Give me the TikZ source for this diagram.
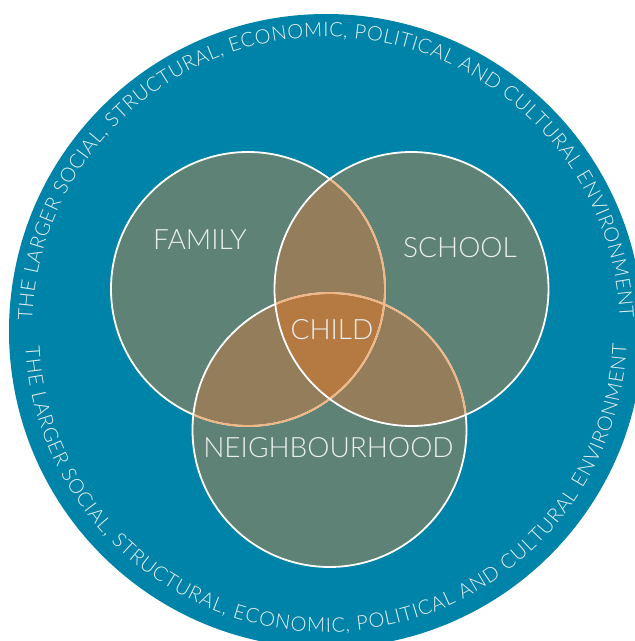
\documentclass[tikz,border=0pt]{standalone}
\usepackage{fontspec}
\IfFontExistsTF{Lato Light}{\setmainfont{Lato Light}}{\setmainfont{Lato}}
\usetikzlibrary{decorations.text}
\definecolor{ringblue}{HTML}{0083A8}
\definecolor{setgreen}{HTML}{5E8275}
\definecolor{pairbrown}{HTML}{937D5A}
\definecolor{triorange}{HTML}{B57A42}
\definecolor{peach}{HTML}{F2B683}
\definecolor{labeltext}{HTML}{E9EFF0}
\newcommand\ringfont{\fontsize{20}{20}\selectfont\color{labeltext}}
\begin{document}
\begin{tikzpicture}[x=1pt,y=1pt,
  setlabel/.style={text=labeltext, font=\fontsize{28}{28}\selectfont, inner sep=0pt},
  whiteedge/.style={draw=white, line width=1.8pt},
  peachedge/.style={draw=peach, line width=1.8pt},
  ringtext/.style={decorate, decoration={text along path, text align=fit to path, text={|\ringfont|#1}}}]
\useasboundingbox (0,0) rectangle (635,641);
\def\rr{137}
\coordinate (big) at (326,310);
\coordinate (fam) at (248,352);
\coordinate (sch) at (411.5,352);
\coordinate (nbh) at (329.5,211);
% outer ring
\fill[ringblue] (big) circle[radius=317];
% set fills
\fill[setgreen] (fam) circle[radius=\rr] (sch) circle[radius=\rr] (nbh) circle[radius=\rr];
\begin{scope}
  \clip (fam) circle[radius=\rr];
  \fill[pairbrown] (sch) circle[radius=\rr] (nbh) circle[radius=\rr];
\end{scope}
\begin{scope}
  \clip (sch) circle[radius=\rr];
  \fill[pairbrown] (nbh) circle[radius=\rr];
\end{scope}
\begin{scope}
  \clip (fam) circle[radius=\rr];
  \clip (sch) circle[radius=\rr];
  \fill[triorange] (nbh) circle[radius=\rr];
\end{scope}
% edges
\draw[whiteedge] (fam) circle[radius=\rr];
\begin{scope}
  \clip (sch) circle[radius=\rr] (nbh) circle[radius=\rr];
  \draw[peachedge] (fam) circle[radius=\rr];
\end{scope}
\draw[whiteedge] (nbh) circle[radius=\rr];
\begin{scope}
  \clip (sch) circle[radius=\rr];
  \draw[peachedge] (nbh) circle[radius=\rr];
\end{scope}
\draw[whiteedge] (sch) circle[radius=\rr];
% labels
\node[setlabel] (famlabel) at (200,401) {FAMILY};
\node[setlabel] (schlabel) at (460,393) {SCHOOL};
\node[setlabel] (childlabel) at (332,311) {CHILD};
\node[setlabel] (nbhlabel) at (328.5,193) {NEIGHBOURHOOD};
% ring texts
\path[ringtext={THE LARGER SOCIAL, STRUCTURAL, ECONOMIC, POLITICAL AND CULTURAL ENVIRONMENT}]
  ([shift={(178:294)}]big) arc[start angle=178, end angle=2.5, radius=294];
\path[ringtext={THE LARGER SOCIAL, STRUCTURAL, ECONOMIC, POLITICAL AND CULTURAL ENVIRONMENT}]
  ([shift={(183:301)}]big) arc[start angle=183, end angle=357.5, radius=301];
\end{tikzpicture}
\end{document}
